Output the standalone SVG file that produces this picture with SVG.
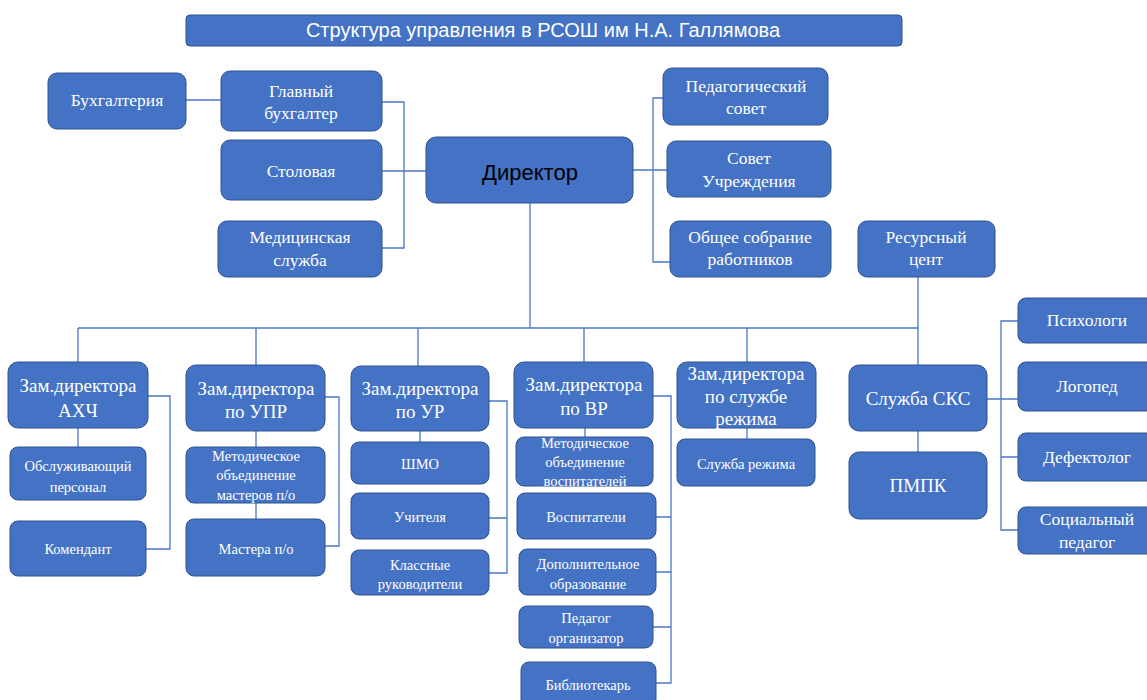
<svg xmlns="http://www.w3.org/2000/svg" width="1147" height="700" viewBox="0 0 1147 700">
<style>
.n{fill:#4472C4;stroke:#2F528F;stroke-width:1}
.t{font-family:"Liberation Serif","Times New Roman",serif;fill:#fff;text-anchor:middle}
.m{font-size:17.5px}
.b{font-size:19px}
.k{font-size:14.5px}
.s{font-family:"Liberation Sans",Arial,sans-serif;text-anchor:middle}
.c{fill:none;stroke:#4A78C8;stroke-width:1.3}
</style>
<rect width="1147" height="700" fill="#fff"/>
<g id="connectors" class="c">
<path d="M186 100H221"/>
<path d="M382 102H404V248H382M382 171H426"/>
<path d="M633 170H667M663 98H653V262H670"/>
<path d="M530 203V328M78 328H918M78 328V362M256 328V365M418 328V366M584 328V362M747 328V362M918 277V365"/>
<path d="M78 428V447M148 396H170V549H146"/>
<path d="M256 431V447M256 503V519M325 397H339V546H325"/>
<path d="M420 431V442M489 401H507V573H489M489 518H507"/>
<path d="M585 428V437M653 396H671V683H656M656 517H671M656 572H671M653 627H671"/>
<path d="M747 428V439"/>
<path d="M918 431V452M987 399H1018M1018 321H1001V530H1018M1001 457H1018"/>
</g>
<g id="title"><rect class="n" x="186" y="15" width="716" height="31" rx="4"/><text class="s" x="543" y="37" font-size="20" fill="#fff">Структура управления в РСОШ им Н.А. Галлямова</text></g>
<g id="buh"><rect class="n" x="48" y="73" width="138" height="56" rx="9"/><text class="t m" x="117" y="106">Бухгалтерия</text></g>
<g id="glbuh"><rect class="n" x="221" y="71" width="161" height="60" rx="9"/><text class="t m" x="301" y="97">Главный</text><text class="t m" x="301" y="119">бухгалтер</text></g>
<g id="stol"><rect class="n" x="221" y="140" width="161" height="60" rx="9"/><text class="t m" x="301" y="177">Столовая</text></g>
<g id="med"><rect class="n" x="218" y="221" width="164" height="56" rx="9"/><text class="t m" x="300" y="243">Медицинская</text><text class="t m" x="300" y="266">служба</text></g>
<g id="dir"><rect class="n" x="426" y="137" width="207" height="66" rx="10"/><text class="s" x="530" y="180" font-size="22" fill="#000">Директор</text></g>
<g id="pedsov"><rect class="n" x="663" y="68" width="165" height="57" rx="9"/><text class="t m" x="746" y="92">Педагогический</text><text class="t m" x="746" y="114">совет</text></g>
<g id="sovet"><rect class="n" x="667" y="141" width="164" height="56" rx="9"/><text class="t m" x="749" y="164">Совет</text><text class="t m" x="749" y="187">Учреждения</text></g>
<g id="obsh"><rect class="n" x="670" y="221" width="161" height="56" rx="9"/><text class="t m" x="750" y="243">Общее собрание</text><text class="t m" x="750" y="265">работников</text></g>
<g id="res"><rect class="n" x="858" y="221" width="137" height="56" rx="9"/><text class="t m" x="926" y="243">Ресурсный</text><text class="t m" x="926" y="265">цент</text></g>
<g id="ahch"><rect class="n" x="8" y="362" width="140" height="66" rx="10"/><text class="t b" x="78" y="392">Зам.директора</text><text class="t b" x="78" y="417">АХЧ</text></g>
<g id="obsl"><rect class="n" x="10" y="447" width="136" height="53" rx="8"/><text class="t k" x="78" y="471">Обслуживающий</text><text class="t k" x="78" y="492">персонал</text></g>
<g id="kom"><rect class="n" x="10" y="521" width="136" height="55" rx="8"/><text class="t k" x="78" y="554">Комендант</text></g>
<g id="upr"><rect class="n" x="186" y="365" width="139" height="66" rx="10"/><text class="t b" x="256" y="395">Зам.директора</text><text class="t b" x="256" y="418">по УПР</text></g>
<g id="mom"><rect class="n" x="186" y="447" width="139" height="56" rx="8"/><text class="t k" x="256" y="461">Методическое</text><text class="t k" x="256" y="480">объединение</text><text class="t k" x="256" y="500">мастеров  п/о</text></g>
<g id="mast"><rect class="n" x="186" y="519" width="139" height="57" rx="8"/><text class="t k" x="256" y="554">Мастера п/о</text></g>
<g id="ur"><rect class="n" x="351" y="366" width="138" height="65" rx="10"/><text class="t b" x="420" y="395">Зам.директора</text><text class="t b" x="420" y="418">по УР</text></g>
<g id="shmo"><rect class="n" x="351" y="442" width="138" height="42" rx="8"/><text class="t k" x="420" y="469">ШМО</text></g>
<g id="uch"><rect class="n" x="351" y="493" width="138" height="46" rx="8"/><text class="t k" x="420" y="522">Учителя</text></g>
<g id="klass"><rect class="n" x="351" y="550" width="138" height="45" rx="8"/><text class="t k" x="420" y="570">Классные</text><text class="t k" x="420" y="589">руководители</text></g>
<g id="vr"><rect class="n" x="514" y="362" width="139" height="66" rx="10"/><text class="t b" x="584" y="391">Зам.директора</text><text class="t b" x="584" y="415">по ВР</text></g>
<g id="mov"><rect class="n" x="516" y="437" width="137" height="49" rx="8"/><text class="t k" x="585" y="448">Методическое</text><text class="t k" x="585" y="467">объединение</text><text class="t k" x="585" y="486">воспитателей</text></g>
<g id="vosp"><rect class="n" x="517" y="493" width="139" height="46" rx="8"/><text class="t k" x="586" y="522">Воспитатели</text></g>
<g id="dop"><rect class="n" x="519" y="549" width="137" height="46" rx="8"/><text class="t k" x="588" y="569">Дополнительное</text><text class="t k" x="588" y="589">образование</text></g>
<g id="ped"><rect class="n" x="519" y="606" width="134" height="42" rx="8"/><text class="t k" x="586" y="623">Педагог</text><text class="t k" x="586" y="643">организатор</text></g>
<g id="bib"><rect class="n" x="521" y="662" width="135" height="45" rx="8"/><text class="t k" x="588" y="690">Библиотекарь</text></g>
<g id="rezh"><rect class="n" x="677" y="362" width="139" height="66" rx="10"/><text class="t b" x="746" y="380">Зам.директора</text><text class="t b" x="746" y="403">по службе</text><text class="t b" x="746" y="425">режима</text></g>
<g id="slrezh"><rect class="n" x="677" y="439" width="138" height="47" rx="8"/><text class="t k" x="746" y="469">Служба режима</text></g>
<g id="sks"><rect class="n" x="849" y="365" width="138" height="66" rx="10"/><text class="t b" x="918" y="405">Служба СКС</text></g>
<g id="pmpk"><rect class="n" x="849" y="452" width="138" height="67" rx="10"/><text class="t b" x="918" y="492">ПМПК</text></g>
<g id="psih"><rect class="n" x="1018" y="298" width="138" height="45" rx="8"/><text class="t m" x="1087" y="326">Психологи</text></g>
<g id="logo"><rect class="n" x="1018" y="362" width="138" height="49" rx="8"/><text class="t m" x="1087" y="392">Логопед</text></g>
<g id="def"><rect class="n" x="1018" y="433" width="138" height="48" rx="8"/><text class="t m" x="1087" y="463">Дефектолог</text></g>
<g id="soc"><rect class="n" x="1018" y="507" width="138" height="47" rx="8"/><text class="t m" x="1087" y="525">Социальный</text><text class="t m" x="1087" y="548">педагог</text></g>
</svg>
